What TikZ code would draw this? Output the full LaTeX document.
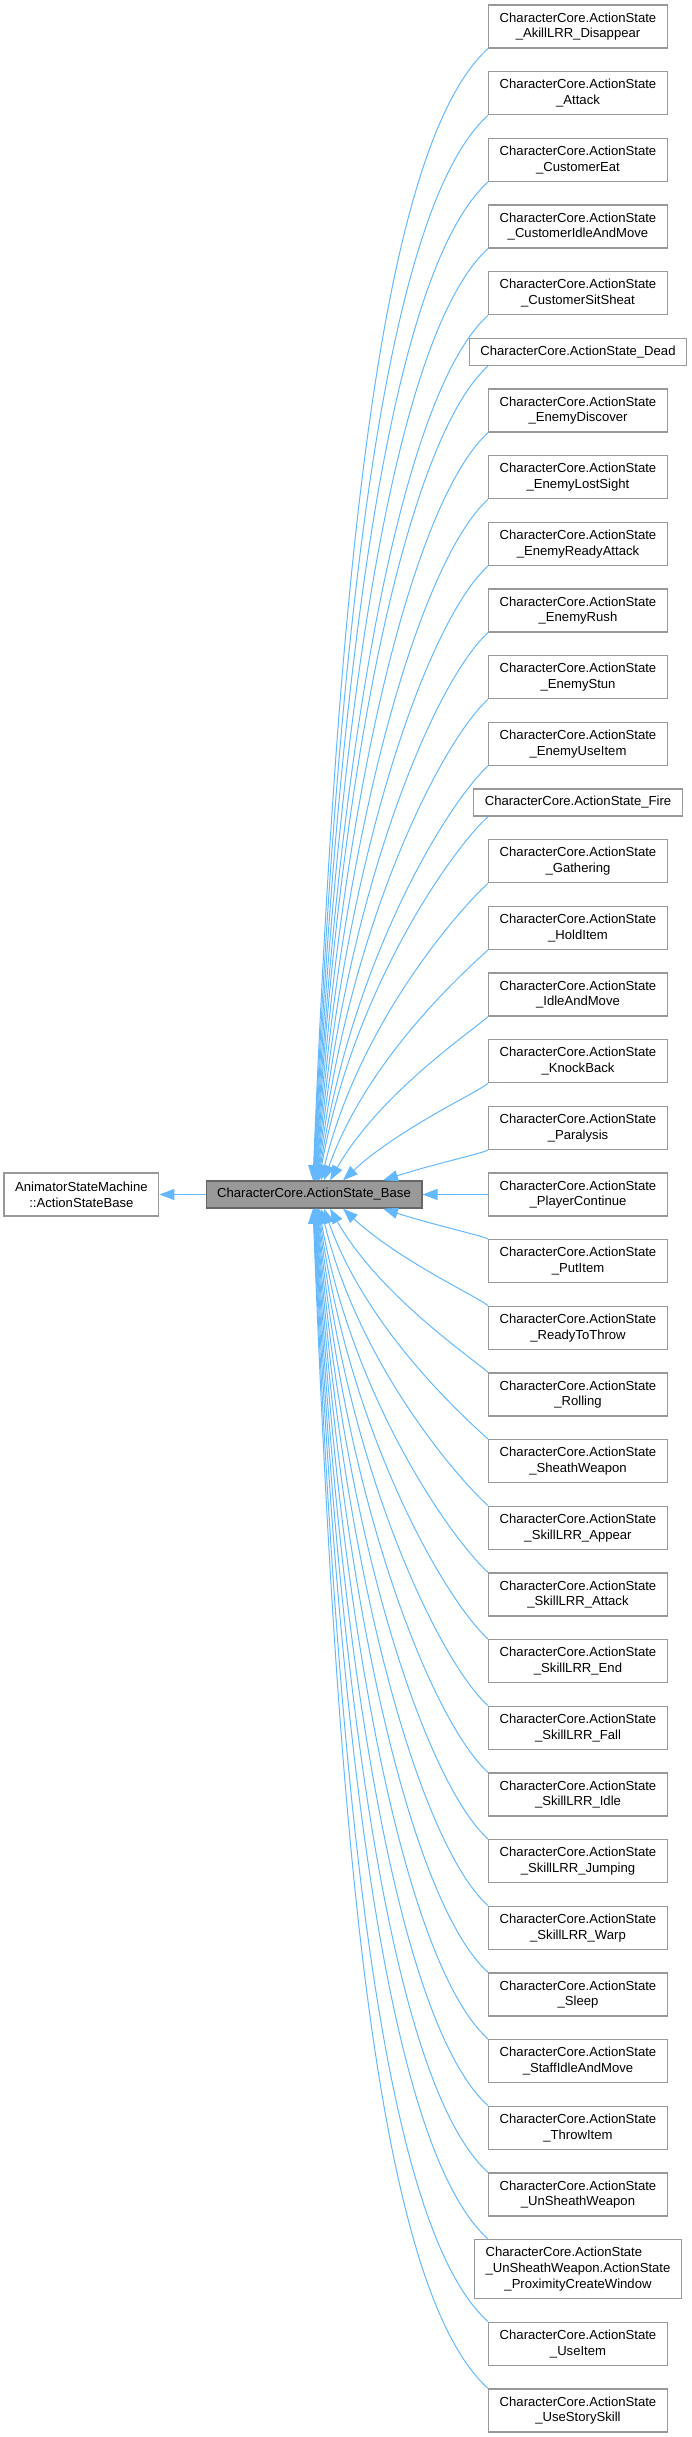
\documentclass[tikz,border=0pt]{standalone}
\usepackage{fontspec}
\setmainfont{Liberation Sans}
\usetikzlibrary{arrows.meta,calc}
\definecolor{edgeblue}{HTML}{63B8FF}
\definecolor{boxgray}{HTML}{999999}
\definecolor{basegray}{HTML}{666666}
\tikzset{
  kid/.style={draw=boxgray, line width=1.3pt, fill=white, align=center,
    inner xsep=11pt, inner ysep=2pt, minimum height=43pt,
    font=\fontsize{13.1}{15.7}\selectfont},
  oneline/.style={kid, minimum height=27pt},
  current/.style={kid, draw=basegray, fill=boxgray, minimum height=27pt},
  inherit/.style={draw=edgeblue, line width=1pt,
    -{Triangle[length=15pt,width=11pt]}}
}
% edges from a derived class above / below the base class
\newcommand\upkid[2]{%
  \draw[inherit] let \p1=(#1.south -| fan), \p2=([xshift=#2pt]base.north),
    \n1={\y1-\y2}, \n2={0.14+0.39*exp(-\n1/200)} in
    (\p1) .. controls ({\x1-0.096*\n1},{\y1-0.087*\n1})
    and ({\x2+\n2*(\x1-\x2)},{\y2+0.53*\n1}) .. (\p2);}
\newcommand\downkid[2]{%
  \draw[inherit] let \p1=(#1.north -| fan), \p2=([xshift=#2pt]base.south),
    \n1={\y2-\y1}, \n2={0.14+0.39*exp(-\n1/200)} in
    (\p1) .. controls ({\x1-0.096*\n1},{\y1+0.087*\n1})
    and ({\x2+\n2*(\x1-\x2)},{\y2-0.53*\n1}) .. (\p2);}
\begin{document}
\begin{tikzpicture}[x=1pt,y=-1pt]
  \useasboundingbox (0,0) rectangle (692,2437);
  \coordinate (fan) at (488,0);
  \node[kid] (animator) at (81.4,1194.5) {AnimatorStateMachine\\::ActionStateBase};
  \node[current] (base) at (314,1194.5) {CharacterCore.ActionState\_Base};
  % derived classes
  \node[kid] (akill) at (578,26.5) {CharacterCore.ActionState\\\_AkillLRR\_Disappear};
  \node[kid] (attack) at (578,93.17) {CharacterCore.ActionState\\\_Attack};
  \node[kid] (custeat) at (578,159.83) {CharacterCore.ActionState\\\_CustomerEat};
  \node[kid] (custidle) at (578,226.5) {CharacterCore.ActionState\\\_CustomerIdleAndMove};
  \node[kid] (custsit) at (578,293.17) {CharacterCore.ActionState\\\_CustomerSitSheat};
  \node[oneline] (dead) at (578,351.83) {CharacterCore.ActionState\_Dead};
  \node[kid] (endiscover) at (578,410.5) {CharacterCore.ActionState\\\_EnemyDiscover};
  \node[kid] (enlost) at (578,477.17) {CharacterCore.ActionState\\\_EnemyLostSight};
  \node[kid] (enready) at (578,543.83) {CharacterCore.ActionState\\\_EnemyReadyAttack};
  \node[kid] (enrush) at (578,610.5) {CharacterCore.ActionState\\\_EnemyRush};
  \node[kid] (enstun) at (578,677.17) {CharacterCore.ActionState\\\_EnemyStun};
  \node[kid] (enuse) at (578,743.83) {CharacterCore.ActionState\\\_EnemyUseItem};
  \node[oneline] (fire) at (578,802.5) {CharacterCore.ActionState\_Fire};
  \node[kid] (gathering) at (578,861.17) {CharacterCore.ActionState\\\_Gathering};
  \node[kid] (holditem) at (578,927.83) {CharacterCore.ActionState\\\_HoldItem};
  \node[kid] (idlemove) at (578,994.5) {CharacterCore.ActionState\\\_IdleAndMove};
  \node[kid] (knockback) at (578,1061.17) {CharacterCore.ActionState\\\_KnockBack};
  \node[kid] (paralysis) at (578,1127.83) {CharacterCore.ActionState\\\_Paralysis};
  \node[kid] (playercont) at (578,1194.5) {CharacterCore.ActionState\\\_PlayerContinue};
  \node[kid] (putitem) at (578,1261.17) {CharacterCore.ActionState\\\_PutItem};
  \node[kid] (readythrow) at (578,1327.83) {CharacterCore.ActionState\\\_ReadyToThrow};
  \node[kid] (rolling) at (578,1394.5) {CharacterCore.ActionState\\\_Rolling};
  \node[kid] (sheath) at (578,1461.17) {CharacterCore.ActionState\\\_SheathWeapon};
  \node[kid] (lrrappear) at (578,1527.83) {CharacterCore.ActionState\\\_SkillLRR\_Appear};
  \node[kid] (lrrattack) at (578,1594.5) {CharacterCore.ActionState\\\_SkillLRR\_Attack};
  \node[kid] (lrrend) at (578,1661.17) {CharacterCore.ActionState\\\_SkillLRR\_End};
  \node[kid] (lrrfall) at (578,1727.83) {CharacterCore.ActionState\\\_SkillLRR\_Fall};
  \node[kid] (lrridle) at (578,1794.5) {CharacterCore.ActionState\\\_SkillLRR\_Idle};
  \node[kid] (lrrjump) at (578,1861.17) {CharacterCore.ActionState\\\_SkillLRR\_Jumping};
  \node[kid] (lrrwarp) at (578,1927.83) {CharacterCore.ActionState\\\_SkillLRR\_Warp};
  \node[kid] (sleep) at (578,1994.5) {CharacterCore.ActionState\\\_Sleep};
  \node[kid] (staffidle) at (578,2061.17) {CharacterCore.ActionState\\\_StaffIdleAndMove};
  \node[kid] (throwitem) at (578,2127.83) {CharacterCore.ActionState\\\_ThrowItem};
  \node[kid] (unsheath) at (578,2194.5) {CharacterCore.ActionState\\\_UnSheathWeapon};
  \node[kid, minimum height=59pt] (proximity) at (578,2269.17) {\rlap{CharacterCore.ActionState}\phantom{\_UnSheathWeapon.ActionState}\\\_UnSheathWeapon.ActionState\\\_ProximityCreateWindow};
  \node[kid] (useitem) at (578,2343.83) {CharacterCore.ActionState\\\_UseItem};
  \node[kid] (usestory) at (578,2410.5) {CharacterCore.ActionState\\\_UseStorySkill};
  % inheritance edges
  \draw[inherit] (base) -- (animator);
  \draw[inherit] (playercont) -- (base);
  \upkid{akill}{-1}
  \upkid{attack}{-0.5}
  \upkid{custeat}{0}
  \upkid{custidle}{0.5}
  \upkid{custsit}{1}
  \upkid{dead}{1.5}
  \upkid{endiscover}{2}
  \upkid{enlost}{2.5}
  \upkid{enready}{3}
  \upkid{enrush}{3.5}
  \upkid{enstun}{4}
  \upkid{enuse}{4.5}
  \upkid{fire}{5}
  \upkid{gathering}{7}
  \upkid{holditem}{10}
  \upkid{idlemove}{16}
  \upkid{knockback}{29}
  \upkid{paralysis}{69}
  \downkid{putitem}{69}
  \downkid{readythrow}{29}
  \downkid{rolling}{16}
  \downkid{sheath}{10}
  \downkid{lrrappear}{7}
  \downkid{lrrattack}{5}
  \downkid{lrrend}{4.5}
  \downkid{lrrfall}{4}
  \downkid{lrridle}{3.5}
  \downkid{lrrjump}{3}
  \downkid{lrrwarp}{2.5}
  \downkid{sleep}{2}
  \downkid{staffidle}{1.5}
  \downkid{throwitem}{1}
  \downkid{unsheath}{0.5}
  \downkid{proximity}{0}
  \downkid{useitem}{-0.5}
  \downkid{usestory}{-1}
\end{tikzpicture}
\end{document}
